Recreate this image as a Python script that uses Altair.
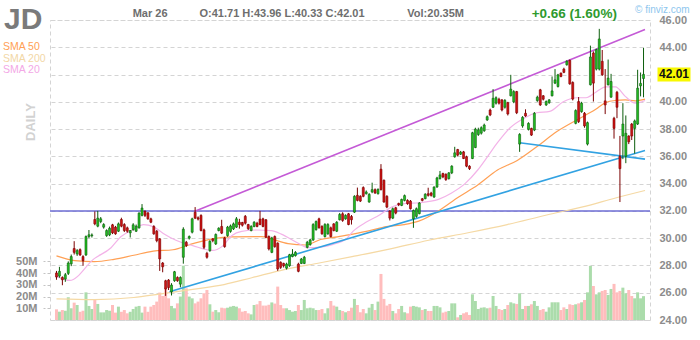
import altair as alt
import pandas as pd

# ---------------- data ----------------
# one entry per trading day, 12 Jun 2019 .. 26 Mar 2020
OPEN = [
    # Jun
    27.45, 27.22, 27.12, 27.00, 27.42, 28.12, 29.24, 28.84, 29.16, 28.65, 28.77, 30.12, 30.18,
    # Jul
    31.37, 30.88, 31.22, 30.81, 30.19, 30.24, 30.98, 30.81, 30.51, 31.37, 31.00, 30.76, 30.39,
    30.63, 30.51, 30.76, 31.67, 31.96, 31.86, 31.42, 30.86, 30.51,
    # Aug
    29.95, 28.18, 26.88, 26.93, 26.07, 26.88, 27.12, 26.63, 28.60, 29.70, 30.00, 30.44, 31.90,
    31.50, 31.67, 30.61, 28.89, 29.09, 29.95, 29.58, 30.56, 30.86,
    # Sep
    30.02, 30.19, 30.50, 30.68, 30.81, 31.17, 31.15, 31.60, 31.00, 30.56, 30.86, 31.10, 31.40,
    31.42, 31.35, 30.12, 28.96, 30.12, 29.63, 28.23,
    # Oct
    28.15, 27.80, 27.98, 28.65, 28.72, 28.10, 28.15, 28.15, 29.33, 29.53, 29.87, 30.63, 31.42,
    30.86, 30.12, 30.32, 30.76, 31.05, 30.51, 31.35, 31.79, 31.42, 31.79,
    # Nov
    31.59, 31.91, 33.14, 33.07, 33.71, 33.26, 32.65, 33.39, 33.56, 33.26, 35.06, 34.25, 33.07,
    31.99, 31.47, 32.23, 32.55, 32.40, 32.77, 32.77,
    # Dec
    32.72, 31.42, 31.60, 31.80, 32.89, 32.90, 33.26, 33.31, 33.02, 33.75, 34.37, 34.74, 34.69,
    34.37, 34.79, 35.97, 36.50, 36.16, 36.33, 35.97, 35.28,
    # Jan
    35.84, 36.65, 37.60, 37.70, 37.88, 38.67, 39.40, 39.60, 39.90, 40.19, 40.14, 39.60, 39.94,
    40.44, 40.00, 40.75, 36.90, 38.23, 39.16, 37.98, 38.05,
    # Feb
    37.93, 40.09, 40.88, 40.44, 39.77, 39.94, 40.44, 41.37, 41.12, 42.10, 42.40, 42.72, 43.04,
    41.42, 38.42, 40.02, 39.28, 39.16, 36.90,
    # Mar
    41.25, 43.58, 42.40, 42.40, 42.97, 40.07, 41.25, 40.34, 38.79, 40.70, 36.00, 37.49, 36.00,
    37.49, 38.37, 38.05, 38.37, 41.17, 41.71,
]
CLOSE = [
    27.15, 27.57, 26.95, 27.32, 28.18, 28.65, 28.96, 29.09, 28.77, 28.35, 30.12, 30.25, 30.24,
    31.05, 31.47, 31.42, 31.00, 30.56, 30.73, 30.39, 30.32, 31.05, 30.88, 30.56, 30.51, 30.56,
    30.98, 30.88, 31.84, 32.21, 31.67, 31.42, 31.17, 30.32, 29.82,
    28.48, 27.90, 26.27, 26.38, 26.56, 27.54, 26.88, 27.12, 30.66, 29.46, 30.12, 31.42, 31.47,
    31.40, 30.56, 29.33, 28.60, 29.77, 29.82, 30.27, 30.73, 30.37,
    29.38, 30.81, 30.90, 31.05, 31.42, 31.00, 30.95, 31.10, 30.70, 30.86, 31.17, 30.86, 31.00,
    30.86, 30.07, 29.21, 30.02, 29.38, 27.74, 27.86,
    27.98, 28.10, 28.79, 28.84, 28.96, 27.57, 28.47, 28.60, 29.70, 29.87, 31.00, 31.22, 30.76,
    30.32, 31.00, 31.00, 30.12, 30.56, 31.17, 31.74, 31.30, 31.67, 31.00,
    31.35, 33.07, 32.77, 32.72, 33.07, 33.39, 33.21, 33.56, 33.31, 33.58, 33.56, 32.65, 32.28,
    31.47, 32.16, 31.84, 32.45, 32.84, 33.12, 32.53,
    32.16, 32.03, 32.16, 32.58, 32.77, 33.22, 33.14, 33.14, 33.75, 34.42, 34.64, 34.49, 34.30,
    34.79, 35.28, 36.26, 36.09, 36.31, 35.84, 35.28, 35.10,
    37.73, 38.00, 37.95, 38.10, 38.30, 38.91, 39.04, 40.26, 40.30, 39.90, 39.40, 40.10, 39.11,
    40.93, 40.75, 39.20, 37.61, 38.86, 38.96, 38.42, 37.56,
    39.16, 40.34, 39.77, 40.19, 40.02, 40.14, 40.80, 41.61, 41.98, 41.86, 42.16, 42.97, 41.32,
    40.20, 39.36, 38.55, 39.90, 38.23, 38.47,
    43.29, 41.37, 43.83, 44.61, 41.98, 39.77, 41.74, 41.49, 38.05, 39.60, 35.10, 38.37, 37.69,
    37.07, 37.49, 38.60, 41.00, 41.35, 42.01,
]
HIGH = [
    27.60, 27.90, 27.20, 27.45, 28.30, 28.80, 29.78, 29.20, 29.25, 28.75, 30.20, 30.60, 30.35,
    31.96, 32.00, 31.55, 31.10, 30.65, 30.85, 31.05, 30.90, 31.15, 31.50, 31.10, 30.85, 30.60,
    31.10, 31.00, 31.90, 32.50, 32.05, 31.90, 31.50, 30.95, 30.60,
    30.00, 28.25, 26.95, 27.00, 26.70, 27.60, 27.20, 27.20, 30.80, 29.80, 30.20, 31.50, 32.28,
    31.60, 31.75, 30.70, 29.00, 29.85, 30.00, 30.35, 30.80, 31.35,
    30.10, 30.90, 31.00, 31.15, 31.55, 31.42, 31.20, 31.70, 31.05, 30.95, 31.25, 31.20, 32.00,
    31.50, 31.40, 30.20, 30.10, 30.20, 29.70, 28.30,
    28.20, 28.20, 28.85, 29.20, 29.05, 28.20, 28.55, 28.70, 29.80, 29.95, 31.10, 31.30, 31.50,
    30.95, 31.10, 31.10, 30.85, 31.10, 31.25, 31.85, 31.90, 31.75, 31.85,
    31.70, 33.15, 33.71, 33.15, 33.80, 33.50, 33.30, 34.07, 33.65, 33.65, 35.43, 34.30, 33.15,
    32.05, 32.25, 32.30, 32.60, 32.90, 33.20, 32.85,
    32.80, 32.10, 32.25, 32.65, 32.95, 33.30, 33.70, 33.40, 33.80, 34.50, 34.93, 34.80, 34.75,
    34.85, 35.35, 36.70, 36.55, 36.40, 36.40, 36.05, 35.35,
    37.80, 38.10, 38.10, 38.20, 38.40, 39.00, 39.50, 40.93, 40.40, 40.30, 40.20, 40.20, 40.00,
    41.98, 40.85, 40.80, 37.70, 38.95, 39.45, 38.50, 38.10,
    39.25, 40.45, 40.95, 40.50, 40.10, 40.20, 41.86, 42.40, 42.05, 42.15, 42.50, 43.05, 43.10,
    41.50, 39.45, 40.35, 40.00, 39.25, 38.55,
    44.12, 43.70, 43.90, 45.35, 43.80, 42.40, 43.10, 42.05, 38.90, 40.80, 37.50, 39.90, 39.00,
    37.55, 38.45, 38.70, 42.35, 42.15, 43.96,
]
LOW = [
    26.95, 27.10, 26.55, 26.80, 27.30, 27.95, 28.80, 28.70, 28.70, 27.98, 28.70, 30.00, 30.05,
    30.95, 30.80, 31.10, 30.70, 30.10, 30.15, 30.30, 30.25, 30.45, 30.80, 30.45, 30.40, 30.05,
    30.55, 30.45, 30.70, 31.60, 31.55, 31.35, 31.10, 30.25, 29.70,
    27.60, 27.50, 25.77, 26.20, 25.80, 26.80, 26.80, 26.40, 28.13, 29.35, 29.90, 30.35, 31.40,
    31.30, 30.50, 29.20, 28.50, 29.00, 29.70, 29.50, 30.50, 30.30,
    29.30, 30.10, 30.40, 30.60, 30.75, 30.70, 30.85, 31.00, 30.60, 30.50, 30.80, 30.80, 30.95,
    30.80, 30.00, 29.10, 28.90, 29.30, 27.60, 27.75,
    27.85, 27.70, 27.90, 28.60, 28.65, 27.50, 28.10, 28.10, 29.25, 29.45, 29.80, 30.55, 30.70,
    30.25, 30.05, 30.25, 30.05, 30.50, 30.45, 31.30, 31.20, 31.35, 30.95,
    31.00, 31.85, 32.70, 32.65, 33.00, 33.20, 32.60, 33.30, 33.25, 33.20, 33.50, 32.60, 32.20,
    31.30, 31.40, 31.75, 32.35, 32.35, 32.70, 32.45,
    32.10, 30.76, 31.50, 31.75, 32.70, 32.85, 33.05, 33.05, 32.95, 33.70, 34.30, 34.40, 34.20,
    34.30, 34.70, 35.90, 36.00, 36.10, 35.80, 35.20, 35.00,
    35.80, 36.60, 37.50, 37.60, 37.80, 38.60, 38.95, 39.55, 39.80, 39.80, 39.30, 39.50, 39.00,
    40.40, 39.90, 39.10, 36.33, 38.10, 38.90, 37.90, 37.50,
    37.85, 40.00, 39.70, 40.10, 39.70, 39.85, 40.40, 41.30, 41.05, 41.80, 42.10, 42.65, 41.25,
    40.10, 38.35, 38.45, 39.20, 38.10, 36.80,
    41.20, 40.02, 42.30, 42.30, 41.90, 39.10, 41.20, 40.30, 37.30, 38.80, 32.65, 35.80, 35.50,
    36.90, 37.20, 36.20, 38.30, 40.40, 40.33,
]
VOLUME_M = [
    9.1, 7.1, 8.5, 7.9, 19.4, 10.0, 14.8, 12.8, 7.0, 7.9, 23.6, 12.0, 9.4,
    17.7, 13.7, 6.5, 6.5, 8.5, 7.9, 12.8, 6.3, 11.4, 7.0, 8.5, 5.7, 7.0, 9.4, 11.4, 12.0, 6.3,
    11.4, 7.0, 11.4, 12.8, 15.7,
    23.4, 20.5, 27.9, 18.5, 12.0, 10.0, 14.2, 20.0, 46.4, 27.0, 20.0, 18.5, 14.2, 15.7, 18.5,
    22.8, 25.6, 13.4, 7.1, 8.5, 6.6, 10.5,
    10.0, 10.5, 11.4, 12.0, 11.4, 10.0, 7.1, 7.7, 5.7, 4.8, 12.8, 13.4, 16.2, 12.3, 12.3, 13.0,
    15.0, 14.0, 28.5, 12.8,
    10.0, 10.0, 8.5, 7.1, 7.7, 12.8, 8.5, 17.1, 10.0, 10.5, 10.0, 8.5, 8.5, 9.4, 5.7, 10.0,
    16.2, 12.3, 11.4, 8.5, 7.7, 6.6, 7.7,
    10.5, 18.0, 12.8, 6.6, 9.4, 5.7, 10.5, 13.7, 8.5, 15.7, 39.3, 18.0, 12.3, 13.7, 7.7, 5.7,
    9.4, 12.0, 6.6, 5.7,
    11.4, 12.0, 11.4, 10.8, 8.5, 9.4, 7.7, 7.7, 12.0, 12.0, 10.8, 6.3, 7.1, 7.7, 14.2, 14.2,
    2.3, 4.3, 5.7, 6.6, 4.3,
    21.9, 16.2, 9.4, 10.5, 10.8, 10.0, 10.5, 20.5, 12.0, 9.4, 8.5, 9.4, 12.8, 15.1, 14.2, 13.7,
    22.8, 9.4, 12.0, 12.0, 13.4,
    16.2, 12.0, 8.5, 9.4, 7.1, 10.8, 15.1, 15.1, 15.1, 8.5, 10.8, 9.4, 13.4, 12.8, 13.4, 14.2,
    15.1, 17.1, 23.6,
    46.2, 29.0, 21.9, 23.6, 24.8, 25.6, 21.4, 26.5, 30.8, 23.6, 24.8, 27.6, 22.8, 25.6, 20.5,
    18.5, 23.6, 18.5, 20.35,
]

# moving averages, read at points along each curve (trading-day index, price)
SMA20_IDX = [0, 4.5, 12.8, 18.5, 21.8, 26.2, 29.5, 32.8, 36.2, 40.5, 46.2, 52.8, 56.2, 59.5,
             62.8, 67.8, 72.8, 76.2, 81.8, 85.2, 89.5, 93.8, 98.5, 100.5, 105.2, 109.5, 113.8,
             118.5, 122.8, 129.5, 133.8, 138.5, 142.8, 146.2, 149.5, 153.8, 158.5, 162.8,
             167.2, 171.8, 176.2, 179.5, 182.8, 186.2, 189.5, 192.8, 196.2, 199.5]
SMA20_VAL = [27.2, 26.9, 28.5, 29.3, 30.1, 30.65, 31.0, 30.85, 30.35, 29.85, 29.45, 29.1, 29.4,
             30.2, 30.5, 30.6, 30.55, 30.3, 29.65, 29.3, 29.35, 29.55, 30.0, 30.5, 31.2, 31.7,
             32.3, 32.55, 32.6, 32.85, 33.3, 34.0, 35.0, 36.0, 37.0, 38.1, 38.8, 39.2, 39.3,
             40.0, 40.3, 40.3, 40.7, 41.1, 41.1, 40.4, 39.9, 40.1]
SMA50_IDX = [0, 6.2, 12.8, 19.5, 26.2, 32.8, 39.5, 46.2, 52.8, 59.5, 69.5, 72.8, 78.5, 84.5,
             89.5, 95.2, 100.5, 106.2, 111.8, 117.8, 122.8, 129.5, 136.2, 142.8, 149.5, 156.2,
             162.8, 169.5, 176.2, 182.8, 186.2, 189.5, 192.8, 196.2, 199.5]
SMA50_VAL = [28.7, 28.35, 28.28, 28.45, 28.75, 29.05, 29.15, 29.6, 29.95, 30.1, 30.12, 29.95,
             29.6, 29.5, 29.9, 30.1, 30.3, 30.55, 30.85, 31.0, 31.25, 32.0, 33.0, 33.9, 35.0,
             35.7, 36.7, 37.8, 38.65, 39.45, 39.95, 40.1, 40.14, 40.07, 40.2]
SMA200_IDX = [0, 12.8, 26.2, 34.8, 46.2, 56.8, 66.2, 77.2, 89.5, 100.2, 112.8, 126.2, 139.5,
              152.8, 166.2, 179.5, 189.5, 199.5]
SMA200_VAL = [25.55, 25.5, 25.65, 25.9, 26.25, 26.6, 27.1, 27.7, 28.2, 28.65, 29.2, 29.85,
              30.4, 31.0, 31.7, 32.35, 32.95, 33.5]

# drawn trend lines: start (index, price) -> end (index, price)
TREND_KIND = ["channel", "support", "short"]
TREND_I1 = [46.7, 38.3, 157.0]
TREND_P1 = [31.95, 26.07, 37.0]
TREND_I2 = [199.5, 199.5, 199.5]
TREND_P2 = [45.3, 36.43, 35.8]
LEVEL = 32.0

MONTH_TICKS = [13, 35, 57, 77, 100, 120, 141, 162, 181]
MONTH_LABELS = ["Jul", "Aug", "Sep", "Oct", "Nov", "Dec", "2020", "Feb", "Mar"]
PRICE_TICKS = [24, 26, 28, 30, 32, 34, 36, 38, 40, 42, 44, 46]
VOLUME_TICKS_M = [10, 20, 30, 40, 50]

# ---------------- tables ----------------
n = len(CLOSE)
days = pd.DataFrame({
    "i": list(range(n)), "o": OPEN, "h": HIGH, "l": LOW, "c": CLOSE,
    "v": [v * 1e6 for v in VOLUME_M],
})
days["dir"] = ["up" if c >= o else "down" for o, c in zip(OPEN, CLOSE)]

sma = pd.DataFrame({
    "i": SMA200_IDX + SMA50_IDX + SMA20_IDX,
    "p": SMA200_VAL + SMA50_VAL + SMA20_VAL,
    "name": ["SMA 200"] * len(SMA200_IDX) + ["SMA 50"] * len(SMA50_IDX) + ["SMA 20"] * len(SMA20_IDX),
})
trends = pd.DataFrame({"kind": TREND_KIND, "i1": TREND_I1, "p1": TREND_P1,
                       "i2": TREND_I2, "p2": TREND_P2})

# ---------------- styling ----------------
FONT = "Arial"
GRID = "#d4d4d4"
DASH = [4, 3]
XS = alt.Scale(domain=[-0.5, n - 0.5], nice=False, zero=False)
PY = alt.Scale(domain=[24, 46], nice=False, zero=False)
VS = alt.Scale(domain=[0, 256e6], nice=False, zero=True)

label_expr = " : ".join(f"datum.value == {t} ? '{m}'" for t, m in zip(MONTH_TICKS, MONTH_LABELS)) + " : ''"
x_axis = alt.Axis(values=MONTH_TICKS, labelExpr=label_expr, grid=True, gridColor=GRID,
                  gridDash=DASH, domain=False, ticks=False, labelPadding=5, labelFontSize=11.5,
                  labelColor="#8a8a8a", labelFont=FONT, labelFlush=False, labelOverlap=False)
# the last close sits in a highlighted box over its own gridline label
price_label_expr = f"abs(datum.value - {round(CLOSE[-1])}) < 0.01 ? '' : format(datum.value, '.2f')"
price_axis = alt.Axis(orient="right", values=PRICE_TICKS, labelExpr=price_label_expr, grid=True,
                      gridColor=GRID, gridDash=DASH, domain=False, ticks=False, labelPadding=9,
                      labelFontSize=11, labelFontWeight="bold", labelColor="#8c8c8c",
                      labelFont=FONT, labelOverlap=False, labelFlush=False)
vol_axis = alt.Axis(orient="left", values=[v * 1e6 for v in VOLUME_TICKS_M],
                    labelExpr="format(datum.value / 1000000, 'd') + 'M'", grid=False,
                    domain=False, tickSize=7, tickColor="#c4c4c4", tickDash=[3, 2],
                    labelPadding=6, labelFontSize=11, labelFontWeight="bold",
                    labelColor="#8c8c8c", labelFont=FONT, labelOverlap=False, labelFlush=False)

dir_scale_vol = alt.Scale(domain=["up", "down"], range=["#abdcab", "#ffbdbd"])
dir_scale_line = alt.Scale(domain=["up", "down"], range=["#0d5e0d", "#7a0000"])
dir_scale_fill = alt.Scale(domain=["up", "down"], range=["#22c022", "#d01414"])

volume = alt.Chart(days).mark_bar(size=3).encode(
    x=alt.X("i:Q", scale=XS, axis=x_axis, title=None),
    y=alt.Y("v:Q", scale=VS, axis=vol_axis, title=None),
    color=alt.Color("dir:N", scale=dir_scale_vol, legend=None),
)

level = alt.Chart(pd.DataFrame({"p": [LEVEL]})).mark_rule(color="#6c6cd4", strokeWidth=1.5).encode(
    y=alt.Y("p:Q", scale=PY, axis=None)
)

sma_lines = alt.Chart(sma).mark_line(interpolate="monotone", strokeWidth=1.2).encode(
    x=alt.X("i:Q", scale=XS, axis=None),
    y=alt.Y("p:Q", scale=PY, axis=None),
    color=alt.Color("name:N", scale=alt.Scale(domain=["SMA 200", "SMA 50", "SMA 20"],
                                               range=["#f5d9a4", "#ffa055", "#f3b3e8"]),
                    legend=None),
)

trend_lines = alt.Chart(trends).mark_rule(strokeWidth=1.6).encode(
    x=alt.X("i1:Q", scale=XS, axis=None), x2="i2:Q",
    y=alt.Y("p1:Q", scale=PY, axis=None), y2="p2:Q",
    color=alt.Color("kind:N", scale=alt.Scale(domain=TREND_KIND,
                                               range=["#c45ad6", "#32a2e2", "#32a2e2"]),
                    legend=None),
)

wicks = alt.Chart(days).mark_rule(strokeWidth=1).encode(
    x=alt.X("i:Q", scale=XS, axis=None),
    y=alt.Y("l:Q", scale=PY, axis=price_axis, title=None), y2="h:Q",
    color=alt.Color("dir:N", scale=dir_scale_line, legend=None),
)

bodies = alt.Chart(days).mark_bar(size=2, strokeWidth=0.6).encode(
    x=alt.X("i:Q", scale=XS, axis=None),
    y=alt.Y("o:Q", scale=PY, axis=None), y2="c:Q",
    fill=alt.Fill("dir:N", scale=dir_scale_fill, legend=None),
    stroke=alt.Stroke("dir:N", scale=dir_scale_line, legend=None),
)

last = pd.DataFrame({"c": [CLOSE[-1]], "t": [f"{CLOSE[-1]:.2f}"]})
last_box = alt.Chart(last).mark_rule(color="#f8f800", strokeWidth=14, strokeCap="butt").encode(
    x=alt.value(607.5), x2=alt.value(640.5), y=alt.Y("c:Q", scale=PY, axis=None)
)
last_text = alt.Chart(last).mark_text(font=FONT, fontSize=12, fontWeight="bold", color="#111",
                                      align="center", baseline="middle").encode(
    x=alt.value(624), y=alt.Y("c:Q", scale=PY, axis=None), text="t:N"
)


def label(s, x, y, **kw):
    return alt.Chart(pd.DataFrame({"t": [s]})).mark_text(font=FONT, **kw).encode(
        text="t:N", x=alt.value(x), y=alt.value(y))


change = CLOSE[-1] - CLOSE[-2]
pct = change / CLOSE[-2] * 100
header = [
    label("JD", -46, 9, fontSize=30, fontWeight="bold", color="#7a7a7a", align="left",
          baseline="alphabetic"),
    label("SMA 50", -47, 27.2, fontSize=10.5, color="#ffa055", align="left"),
    label("SMA 200", -47, 38.8, fontSize=10.5, color="#f2d7a6", align="left"),
    label("SMA 20", -47, 50.4, fontSize=10.5, color="#f3a8e6", align="left"),
    label("DAILY", -19, 102, fontSize=13, fontWeight="bold", color="#d2d2d2", align="center",
          baseline="middle", angle=270),
    label("Mar 26", 82.7, -6, fontSize=11, fontWeight="bold", color="#6e6e6e", align="left"),
    label(f"O:{OPEN[-1]:.2f} H:{HIGH[-1]:.2f} L:{LOW[-1]:.2f} C:{CLOSE[-1]:.2f}", 149.5, -6,
          fontSize=11, fontWeight="bold", color="#6e6e6e", align="left"),
    label(f"Vol:{VOLUME_M[-1]:.2f}M", 357.3, -6, fontSize=11, fontWeight="bold",
          color="#6e6e6e", align="left"),
    label(f"{change:+.2f} ({pct:.2f}%)", 481.7, -6, fontSize=13.5, fontWeight="bold",
          color="#2e9a2e", align="left"),
    label("\u00a9 finviz.com", 585, -10, fontSize=10, color="#8ec6ee", align="left"),
]

chart = alt.layer(
    volume, level, sma_lines, trend_lines, wicks, bodies, last_box, last_text, *header
).resolve_scale(
    y="independent", color="independent", fill="independent", stroke="independent"
).properties(
    width=600, height=300,
    padding={"left": 50, "top": 20, "right": 50, "bottom": 20},
    autosize=alt.AutoSizeParams(type="none"),
).configure_view(stroke=GRID, strokeDash=DASH)

chart.save("out.html", embed_options={"renderer": "svg", "actions": False})
